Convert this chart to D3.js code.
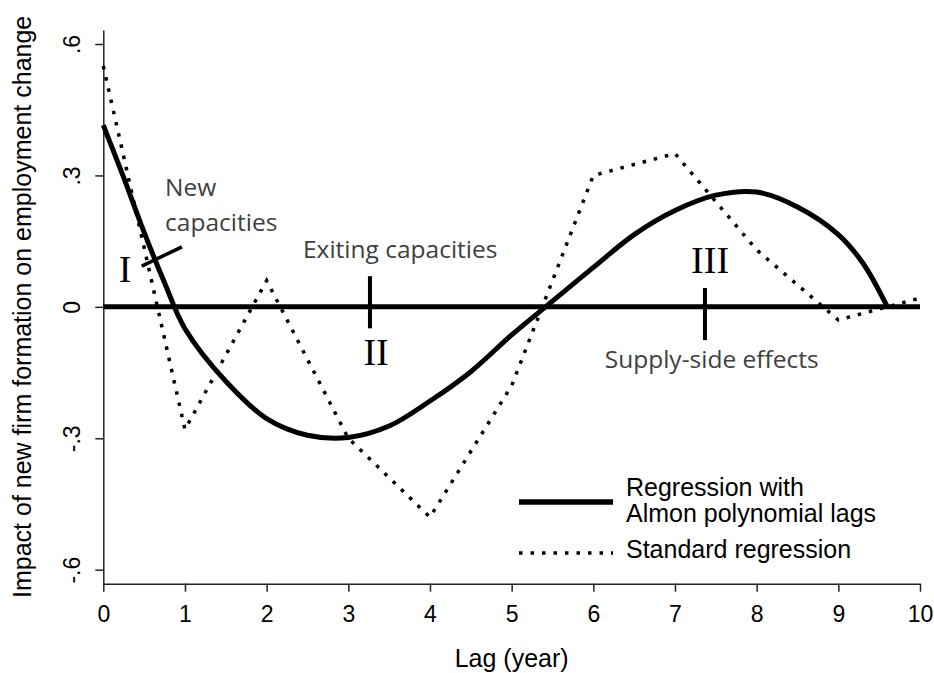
<!DOCTYPE html>
<html lang="en">
<head>
<meta charset="UTF-8" />
<title>Impact of new firm formation on employment change</title>
<script src="https://d3js.org/d3.v7.min.js"></script>
<style>
  body { margin: 0; background: #fff; }
  svg { display: block; }
  .axis text { font-family: "Liberation Sans", Arial, sans-serif; font-size: 23px; fill: #000; }
  .axis path, .axis line { stroke: #222; stroke-width: 1.5; }
  .label { font-family: "Liberation Sans", Arial, sans-serif; font-size: 25px; fill: #000; }
  .note { font-family: "Open Sans", sans-serif; font-size: 24.5px; fill: #404040; }
  .roman { font-family: "Liberation Serif", "Times New Roman", serif; font-size: 38px; fill: #000; }
</style>
</head>
<body>
<svg id="chart" width="934" height="673"></svg>
<script>
  // standard regression: one estimate per lag year
  const lags = [0, 1, 2, 3, 4, 5, 6, 7, 8, 9, 10];
  const standardEffect = [0.55, -0.28, 0.06, -0.30, -0.48, -0.18, 0.30, 0.35, 0.13, -0.03, 0.02];

  // Almon polynomial lag curve
  const almonLag = [0, 0.25, 0.5, 0.75, 1, 1.5, 2, 2.5, 3, 3.5, 4, 4.5, 5, 5.5, 6, 6.5, 7, 7.5, 8, 8.5, 9, 9.3, 9.6];
  const almonEffect = [0.415, 0.295, 0.17, 0.055, -0.05, -0.17, -0.255, -0.293, -0.298, -0.272, -0.215, -0.148,
                       -0.064, 0.013, 0.09, 0.165, 0.22, 0.255, 0.262, 0.228, 0.165, 0.10, 0.0];

  const xTicks = [0, 1, 2, 3, 4, 5, 6, 7, 8, 9, 10];
  const yTicks = [0.6, 0.3, 0, -0.3, -0.6];
  const yTickLabels = [".6", ".3", "0", "-.3", "-.6"];

  const svg = d3.select("#chart");

  const x = d3.scaleLinear().domain([0, 10]).range([103.3, 920]);
  const y = d3.scaleLinear().domain([-0.632, 0.632]).range([583.7, 30]);

  // axes
  const xAxis = svg.append("g")
    .attr("class", "axis")
    .attr("transform", `translate(0,${y.range()[0]})`)
    .call(d3.axisBottom(x).tickValues(xTicks).tickSize(8).tickSizeOuter(0));
  xAxis.selectAll("text").attr("y", 38).attr("dy", 0);

  const yAxis = svg.append("g")
    .attr("class", "axis")
    .attr("transform", `translate(${x.range()[0]},0)`)
    .call(d3.axisLeft(y).tickValues(yTicks).tickFormat((d, i) => yTickLabels[i]).tickSize(8).tickSizeOuter(0));
  yAxis.selectAll("text")
    .attr("x", 0)
    .attr("dy", 0)
    .attr("text-anchor", "middle")
    .attr("transform", "translate(-23,0) rotate(-90)");

  svg.append("text")
    .attr("class", "label")
    .attr("x", (x.range()[0] + x.range()[1]) / 2)
    .attr("y", 667)
    .attr("text-anchor", "middle")
    .text("Lag (year)");

  svg.append("text")
    .attr("class", "label")
    .attr("text-anchor", "middle")
    .attr("transform", `translate(31,${(y.range()[0] + y.range()[1]) / 2}) rotate(-90)`)
    .text("Impact of new firm formation on employment change");

  // zero line
  svg.append("line")
    .attr("x1", x(0)).attr("x2", x(10))
    .attr("y1", y(0)).attr("y2", y(0))
    .attr("stroke", "#000")
    .attr("stroke-width", 5);

  // curves
  const almonLine = d3.line()
    .x((d, i) => x(almonLag[i]))
    .y(d => y(d))
    .curve(d3.curveCatmullRom);

  svg.append("path")
    .attr("d", almonLine(almonEffect))
    .attr("fill", "none")
    .attr("stroke", "#000")
    .attr("stroke-width", 5)
    .attr("stroke-linejoin", "round");

  const standardLine = d3.line()
    .x((d, i) => x(lags[i]))
    .y(d => y(d));

  svg.append("path")
    .attr("d", standardLine(standardEffect))
    .attr("fill", "none")
    .attr("stroke", "#000")
    .attr("stroke-width", 3.5)
    .attr("stroke-dasharray", "3.5 8");

  // annotations
  const marks = [
    { x: 3.265, y1: 0.070, y2: -0.049 },
    { x: 7.367, y1: 0.043, y2: -0.076 }
  ];
  svg.selectAll(".phase-tick")
    .data(marks)
    .join("line")
    .attr("class", "phase-tick")
    .attr("x1", d => x(d.x)).attr("x2", d => x(d.x))
    .attr("y1", d => y(d.y1)).attr("y2", d => y(d.y2))
    .attr("stroke", "#000")
    .attr("stroke-width", 4);

  svg.append("line")
    .attr("x1", x(0.47)).attr("y1", y(0.093))
    .attr("x2", x(0.964)).attr("y2", y(0.137))
    .attr("stroke", "#000")
    .attr("stroke-width", 3.5);

  const notes = [
    { text: "New", x: 0.757, y: 0.253 },
    { text: "capacities", x: 0.757, y: 0.173 },
    { text: "Exiting capacities", x: 2.445, y: 0.112 },
    { text: "Supply-side effects", x: 6.14, y: -0.139 }
  ];
  svg.selectAll(".note")
    .data(notes)
    .join("text")
    .attr("class", "note")
    .attr("x", d => x(d.x))
    .attr("y", d => y(d.y))
    .text(d => d.text);

  const romans = [
    { text: "I", x: 0.266, y: 0.056 },
    { text: "II", x: 3.34, y: -0.133 },
    { text: "III", x: 7.43, y: 0.077 }
  ];
  svg.selectAll(".roman")
    .data(romans)
    .join("text")
    .attr("class", "roman")
    .attr("text-anchor", "middle")
    .attr("x", d => x(d.x))
    .attr("y", d => y(d.y))
    .text(d => d.text);

  // legend
  const legend = svg.append("g");
  legend.append("line")
    .attr("x1", 519).attr("x2", 613).attr("y1", 502).attr("y2", 502)
    .attr("stroke", "#000").attr("stroke-width", 5.5);
  legend.append("line")
    .attr("x1", 519).attr("x2", 613).attr("y1", 553).attr("y2", 553)
    .attr("stroke", "#000").attr("stroke-width", 3.5)
    .attr("stroke-dasharray", "3.5 8");
  legend.append("text").attr("class", "label").attr("x", 626).attr("y", 496).text("Regression with");
  legend.append("text").attr("class", "label").attr("x", 626).attr("y", 522).text("Almon polynomial lags");
  legend.append("text").attr("class", "label").attr("x", 626).attr("y", 558).text("Standard regression");
</script>
</body>
</html>
